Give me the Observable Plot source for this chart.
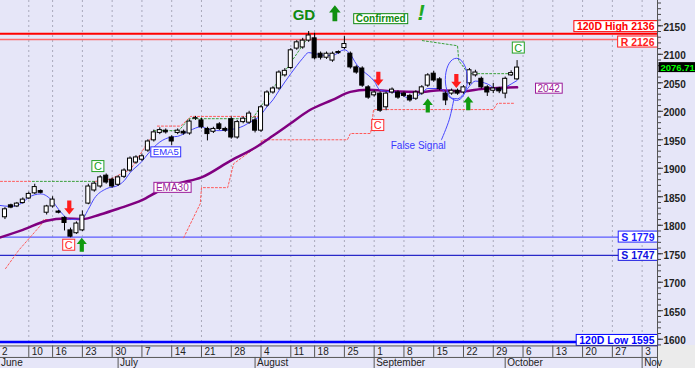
<!DOCTYPE html>
<html><head><meta charset="utf-8">
<script src="https://cdn.jsdelivr.net/npm/d3@7"></script>
<script src="https://cdn.jsdelivr.net/npm/@observablehq/plot@0.6"></script>
<style>
body{margin:0;background:#fff;}
#chart{width:695px;height:368px;background:#e6e6f8;font-family:"Liberation Sans",Arial,sans-serif;}
#chart svg{display:block}
</style></head><body><div id="chart"></div>
<script>
// ---------- data ----------
// trading-day index: 0 = Mon 2 June (holidays 9 Jun, 15 Aug skipped)
const candleDay = d3.range(1, 88);
const open  = [1814,1835,1833,1839,1847,1856,1860,1822,1833,1824,1813,1791,1786,1791,1838,1861,1868,1887,1880,1871,1885,1896,1910,1915,1931,1949,1962,1966,1954,1962,1964,1961,1987,1984,1969,1964,1977,1969,1986,1954,1981,1980,1984,1966,2010,2033,2040,2063,2076,2110,2112,2124,2128,2101,2094,2089,2104,2111,2101,2077,2075,2042,2028,2031,2007,2033,2033,2031,2027,2022,2031,2045,2066,2056,2031,2031,2036,2033,2049,2063,2057,2042,2036,2040,2031,2063,2056];
const high  = [1831,1837,1840,1848,1858,1872,1862,1835,1850,1826,1815,1795,1806,1825,1872,1876,1887,1890,1883,1887,1899,1920,1922,1925,1950,1967,1971,1969,1957,1969,1967,1985,1991,1988,1972,1972,1980,1972,1990,1984,1990,2000,1990,2010,2036,2043,2071,2075,2110,2124,2128,2140,2137,2104,2104,2104,2106,2131,2104,2080,2078,2045,2036,2034,2034,2041,2036,2034,2030,2036,2045,2066,2070,2059,2034,2039,2039,2045,2075,2072,2060,2045,2049,2042,2060,2071,2089];
const low   = [1810,1829,1831,1837,1845,1854,1855,1818,1830,1820,1790,1778,1784,1789,1836,1858,1865,1872,1865,1868,1882,1893,1907,1912,1928,1946,1959,1960,1940,1959,1958,1958,1984,1969,1948,1961,1966,1963,1951,1951,1978,1977,1962,1963,2007,2030,2037,2060,2073,2107,2109,2121,2090,2090,2091,2086,2100,2108,2074,2065,2042,2021,2025,1998,2001,2030,2021,2024,2016,2019,2028,2042,2051,2036,2010,2028,2028,2030,2045,2060,2039,2026,2031,2031,2022,2061,2054];
const close = [1828,1831,1838,1845,1855,1867,1857,1833,1845,1822,1804,1780,1803,1817,1868,1873,1884,1875,1868,1884,1896,1917,1919,1921,1947,1963,1967,1963,1947,1966,1961,1982,1988,1972,1960,1969,1969,1966,1954,1981,1987,1996,1966,2007,2033,2040,2068,2071,2107,2121,2124,2133,2093,2094,2101,2101,2102,2118,2077,2068,2045,2024,2033,2001,2031,2038,2024,2027,2019,2033,2042,2063,2054,2039,2019,2036,2031,2042,2072,2068,2042,2033,2040,2035,2057,2067,2076.71];

const ema5Day   = [0,2,4,5,7,9,10,12,14,15,16,18,20,21,22,24,25,27,29,30,32,34,35,37,39,41,42,44,45,46,47,49,50,51,52,53,55,56,58,59,60,61,63,64,66,67,69,71,72,74,76,77,78,79,80,82,84,85,87];
const ema5Value = [1835,1833,1840,1849,1855,1842,1828,1810,1812,1828,1847,1864,1870,1878,1892,1912,1925,1946,1955,1956,1966,1973,1969,1966,1968,1974,1980,1994,2008,2020,2036,2066,2080,2093,2103,2101,2098,2098,2108,2100,2083,2072,2053,2037,2034,2033,2022,2032,2040,2040,2023,2022,2030,2044,2053,2048,2037,2042,2054];
const ema30Day   = [0,4,8,11,14,17,20,24,27,30,34,39,43,46,49,52,56,59,62,66,71,74,78,81,87];
const ema30Value = [1778,1792,1808,1812,1811,1819,1829,1844,1861,1873,1884,1914,1936,1957,1979,2001,2020,2034,2038,2035,2034,2037,2035,2039,2042];

// stop (red) and resistance (green) step lines
const stopSeg   = ["s1","s1","s1","s1","s1","s2","s2","s2","s2","s2","s2","s2","s2","s2","s2","s2","s2","s2","s2","r1","r1","r2","r2","r2","r2","r2","r3","r3","r3","r3"];
const stopDay   = [1.1,3.3,7.0,7.5,10.8, 31.0,33.8,34.0,38.4,39.4,43.6,44.3,58.5,59.0,62.4,62.9,83.0,83.7,86.7, 0.25,5.6, 16.2,18.7,22.1,24.9,26.0, 26.6,30.5,32.2,43.9];
const stopValue = [1724,1756,1800,1810,1810, 1778,1838,1866,1866,1908,1940,1950,1950,1961,1961,2003,2003,2014,2014, 1877,1877, 1877,1881,1898,1944,1960, 1974,1974,1991,1991];
const resSeg    = ["g1","g1","g2","g2","g2","g2","g2","g2","g3","g3","g3","g3","g3"];
const resDay    = [5.6,16.2, 26.0,30.2,31.9,41.7,42.7,52.3, 71.1,77.0,77.2,78.8,86.4];
const resValue  = [1877,1877, 1966,1966,1987,1987,1989,2136, 2124,2115,2089,2066,2066];

const levelValue = [2136, 2126, 1779, 1747, 1595];
const levelName  = ["120D High 2136", "R 2126", "S 1779", "S 1747", "120D Low 1595"];
const lastPrice = 2076.71;

const weekTickDay   = [0,5,9,14,19,24,29,34,39,44,49,53,58,63,68,73,78,83,88,93,98,103,108];
const weekTickLabel = ["2","10","16","23","30","7","14","21","28","4","11","18","25","1","8","15","22","29","6","13","20","27","3"];
const monthStartDay = [0,20,43,63,85,108];
const monthLabel    = ["June","July","August","September","October","Nov"];
const yMajor = d3.range(1600, 2151, 50);
const yMinor = d3.range(1590, 2191, 10);

// annotations
const downArrowDay = [11.8, 63.7, 76.8], downArrowValue = [1831, 2057, 2053];
const upArrowDay = [13.9, 72.0, 78.8], upArrowValue = [1766, 2010, 2014];
const bigArrowDay = [56.4], bigArrowValue = [2172];
const redBoxText = ["C","C"], redBoxDay = [11.7, 63.6], redBoxValue = [1765, 1975];
const greenBoxText = ["C","C"], greenBoxDay = [16.6, 87.2], greenBoxValue = [1903, 2111];
const emaBoxText = ["EMA5","EMA30","2042"], emaBoxDay = [28.0, 29.1, 92.3], emaBoxValue = [1928, 1866, 2040];
const ellipseCenter = [76.8, 2056], ellipseRadius = [1.85, 37];
const pointerDay = [76.4, 75.6, 74.3], pointerValue = [2022, 1985, 1950];

// ---------- build ----------
const candles = candleDay.map((d,k)=>({day:d, open:open[k], high:high[k], low:low[k], close:close[k]}));
const ema5 = ema5Day.map((d,k)=>({day:d, value:ema5Value[k]}));
const ema30 = ema30Day.map((d,k)=>({day:d, value:ema30Value[k]}));
const stops = stopDay.map((d,k)=>({day:d, value:stopValue[k], seg:stopSeg[k]}));
const res = resDay.map((d,k)=>({day:d, value:resValue[k], seg:resSeg[k]}));
const levels = levelValue.map((v,k)=>({value:v, name:levelName[k]}));
const ellipse = d3.range(0, 361, 10).map(a=>({day: ellipseCenter[0] + ellipseRadius[0]*Math.cos(a*Math.PI/180), value: ellipseCenter[1] + ellipseRadius[1]*Math.sin(a*Math.PI/180)}));
const pointer = pointerDay.map((d,k)=>({day:d, value:pointerValue[k]}));
const pts = (days, vals, texts) => days.map((d,k)=>({day:d, value:vals[k], text: texts ? texts[k] : null}));

const font = '"Liberation Sans", Arial, sans-serif';
const xDomain = [0.25, 110.58];

function arrowSymbol(dir){
  return {draw(ctx, size){
    const r = Math.sqrt(size/Math.PI);
    const h = 2*r, w = 1.45*r, sw = 0.6*r, hh = 0.9*r;
    const s = dir; // 1 = down, -1 = up
    ctx.moveTo(-sw/2, -s*h/2); ctx.lineTo(sw/2, -s*h/2);
    ctx.lineTo(sw/2, s*(h/2-hh)); ctx.lineTo(w/2, s*(h/2-hh));
    ctx.lineTo(0, s*h/2); ctx.lineTo(-w/2, s*(h/2-hh));
    ctx.lineTo(-sw/2, s*(h/2-hh)); ctx.closePath();
  }};
}
const levelStroke = ["#ff0000","#ff6a6a","#5a5aff","#2828c8","#0000ff"];
const levelWidth = [2,1.5,1.2,1.2,2.5];
const levelText = ["#ff0000","#ff2020","#2020ff","#1010e0","#0000ff"];
const levelDy = [-7, 2.7, 0, 0, -1.5];

const main = Plot.plot({
  width: 695, height: 345,
  marginLeft: 0, marginRight: 38, marginTop: 0, marginBottom: 0,
  style: {background: "#e6e6f8", fontFamily: font, overflow: "visible"},
  x: {domain: xDomain, axis: null},
  y: {domain: [1589, 2194.4], axis: null},
  marks: [
    Plot.ruleX(weekTickDay, {stroke: "#a9a9bb", strokeDasharray: "2,3"}),
    ...levels.map((l,k)=>Plot.ruleY([l.value], {stroke: levelStroke[k], strokeWidth: levelWidth[k]})),
    Plot.line(stops, {x:"day", y:"value", z:"seg", stroke:"#ff5a5a", strokeDasharray:"2,2", strokeWidth:1}),
    Plot.line(res, {x:"day", y:"value", z:"seg", stroke:"#3aa03a", strokeDasharray:"2,2", strokeWidth:1}),
    Plot.line(ema30, {x:"day", y:"value", stroke:"#800080", strokeWidth:2.5, curve:"monotone-x"}),
    Plot.line(ema5, {x:"day", y:"value", stroke:"#4848ff", strokeWidth:1, curve:"monotone-x"}),
    Plot.ruleX(candles, {x:"day", y1:"low", y2:"high", stroke:"#000", strokeWidth:1}),
    Plot.rect(candles, {x1: d=>d.day-0.34, x2: d=>d.day+0.34, y1:"open", y2:"close",
      fill: d=> d.close>=d.open ? "#fff" : "#000", stroke:"#000", strokeWidth:1}),
    Plot.line(ellipse, {x:"day", y:"value", stroke:"#4848ff", strokeWidth:1, curve:"catmull-rom"}),
    Plot.line(pointer, {x:"day", y:"value", stroke:"#4848ff", strokeWidth:1, curve:"catmull-rom"}),
    Plot.text(["False Signal"], {x: 70.4, y: 1940, text: d=>d, fill:"#3838ff", fontSize:10}),
    Plot.dot(pts(downArrowDay, downArrowValue), {x:"day", y:"value", symbol: arrowSymbol(1), r:7, fill:"#ff1c1c", stroke:"none"}),
    Plot.dot(pts(upArrowDay, upArrowValue), {x:"day", y:"value", symbol: arrowSymbol(-1), r:7, fill:"#109a10", stroke:"none"}),
    Plot.dot(pts(bigArrowDay, bigArrowValue), {x:"day", y:"value", symbol: arrowSymbol(-1), r:8, fill:"#109010", stroke:"none"}),
    Plot.text(["GD"], {x: 51.2, y: 2169.5, text: d=>d, fill:"#108a10", fontSize:15, fontWeight:"bold"}),
    Plot.text(["!"], {x: 70.9, y: 2172, text: d=>d, fill:"#20a820", fontSize:22, fontWeight:"bold", fontStyle:"italic"}),
    Plot.text(["Confirmed"], {x: 64.1, y: 2162, text: d=>d, fill:"#108a10", fontSize:10, fontWeight:"bold"}),
    Plot.text(pts(redBoxDay, redBoxValue, redBoxText), {x:"day", y:"value", text:"text", fill:"#ff2a2a", fontSize:11}),
    Plot.text(pts(greenBoxDay, greenBoxValue, greenBoxText), {x:"day", y:"value", text:"text", fill:"#22a022", fontSize:11}),
    Plot.text(pts(emaBoxDay.slice(0,1), emaBoxValue.slice(0,1), emaBoxText.slice(0,1)), {x:"day", y:"value", text:"text", fill:"#3030ff", fontSize:9.5}),
    Plot.text(pts(emaBoxDay.slice(1), emaBoxValue.slice(1), emaBoxText.slice(1)), {x:"day", y:"value", text:"text", fill:"#9a1a9a", fontSize:10}),
    ...levels.map((l,k)=>Plot.text([l], {frameAnchor:"right", y:"value", text:"name", textAnchor:"end", dx:-3, dy: levelDy[k], fill: levelText[k], fontSize:10.5, fontWeight:"bold"})),
    Plot.ruleX([xDomain[1]], {stroke:"#555"}),
    Plot.axisY(yMinor, {anchor:"right", tickSize:3, tickFormat: ()=>"", label:null, stroke:"#444"}),
    Plot.axisY(yMajor, {anchor:"right", tickSize:5, tickFormat: ()=>"", label:null, stroke:"#333"}),
    Plot.axisY(yMajor, {anchor:"right", tickSize:0, tickPadding:6, dy:2, label:null, fontSize:10, fontWeight:"bold", fill:"#222", tickFormat: d=>String(d)}),
    Plot.text([lastPrice], {frameAnchor:"right", y: d=>d, text: d=>d.toFixed(2), textAnchor:"start", dx:3, fill:"#00ff00", fontSize:9.5, fontWeight:"bold"})
  ]
});

const band = Plot.plot({
  width: 695, height: 23,
  marginLeft: 0, marginRight: 38, marginTop: 0, marginBottom: 0,
  style: {background: "linear-gradient(to right, #e6e6f8 657px, #ebebeb 657px)", fontFamily: font, overflow:"visible"},
  x: {domain: xDomain, axis: null},
  y: {domain: [2, -0.04], axis: null},
  marks: [
    Plot.ruleY([0, 1.02], {stroke:"#555"}),
    Plot.ruleX(weekTickDay, {y1: 0, y2: 1.02, stroke:"#555"}),
    Plot.ruleX(monthStartDay, {y1: 1.02, y2: 2, stroke:"#555"}),
    Plot.ruleX([xDomain[1]], {y1: 0, y2: 2, stroke:"#555"}),
    Plot.text(weekTickDay, {x: d=>d, y: 0.52, text: (d,k)=>weekTickLabel[k], textAnchor:"start", dx:3, fontSize:10, fill:"#222"}),
    Plot.text(monthStartDay, {x: d=>d, y: 1.52, text: (d,k)=>monthLabel[k], textAnchor:"start", dx:2, fontSize:10, fill:"#222"})
  ]
});

const root = document.getElementById("chart");
root.appendChild(main);
root.appendChild(band);

// draw label boxes behind the annotation texts
const boxed = new Set(["C","EMA5","EMA30","2042","Confirmed"]);
const levelBoxed = new Set(levelName);
const blackBoxed = new Set([lastPrice.toFixed(2)]);
main.querySelectorAll("text").forEach(t=>{
  const s = t.textContent;
  if (!boxed.has(s) && !blackBoxed.has(s) && !levelBoxed.has(s)) return;
  const black = blackBoxed.has(s);
  const pad = levelBoxed.has(s) ? 3 : 2;
  const b = t.getBBox();
  const r = document.createElementNS("http://www.w3.org/2000/svg","rect");
  r.setAttribute("x", b.x - pad); r.setAttribute("y", b.y + 0.5);
  r.setAttribute("width", b.width + 2*pad); r.setAttribute("height", b.height - 1);
  r.setAttribute("fill", black ? "#000" : "#fff");
  r.setAttribute("stroke", black ? "none" : getComputedStyle(t).fill);
  r.setAttribute("stroke-width", 1);
  if (t.getAttribute("transform")) r.setAttribute("transform", t.getAttribute("transform"));
  t.parentNode.insertBefore(r, t);
});
</script></body></html>
